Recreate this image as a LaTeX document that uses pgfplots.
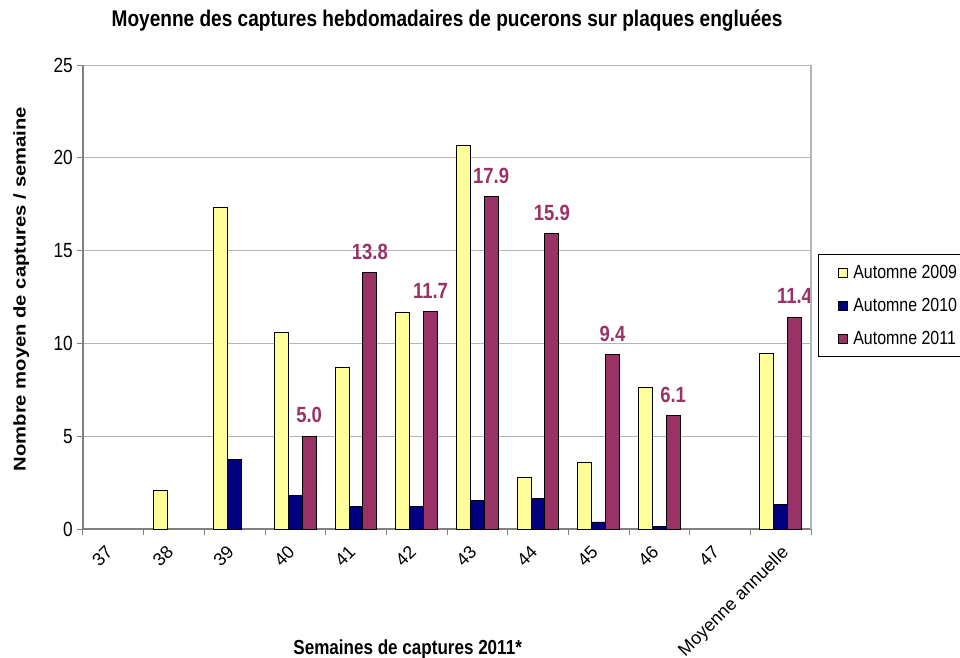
\documentclass[border=0pt]{standalone}
\usepackage{graphicx}
\usepackage{pgfplots}
\pgfplotsset{compat=1.18}
\usepackage{fontspec}
\setmainfont[FakeStretch=0.84]{Liberation Sans}
\newfontfamily\vfont[FakeStretch=1.19]{Liberation Sans}
\newfontfamily\lfont{Liberation Sans}
\definecolor{cA}{HTML}{FFFF99}
\definecolor{cB}{HTML}{000080}
\definecolor{cC}{HTML}{993366}
\definecolor{axg}{HTML}{808080}
\definecolor{grg}{HTML}{B4B4B4}
\newcommand\xl[1]{\rotatebox{45}{#1}}
\begin{document}
\begin{tikzpicture}
\useasboundingbox (-83pt,-128pt) rectangle (877pt,529pt);
\begin{axis}[
  scale only axis,
  width=728pt, height=464pt,
  xmin=-0.5, xmax=11.5,
  ymin=0, ymax=25,
  ytick={0,5,...,25},
  xtick={-0.5,0.5,...,11.5},
  xticklabels={\xl{37},\xl{38},\xl{39},\xl{40},\xl{41},\xl{42},\xl{43},\xl{44},\xl{45},\xl{46},\xl{47},\xl{Moyenne annuelle}\hspace*{-11pt},{}},
  /pgf/number format/assume math mode=true,
  tick align=outside,
  major tick length=6pt,
  tick style={draw=axg, line width=1pt},
  axis x line*=bottom,
  axis y line*=left,
  axis line style={draw=axg, line width=1.2pt, -},
  ymajorgrids,
  grid style={draw=grg, line width=1pt},
  yticklabel style={font=\fontsize{20.5}{24}\selectfont, inner sep=0pt, xshift=-4pt},
  xticklabel style={font=\lfont\fontsize{18}{21}\selectfont, xshift=31pt, yshift=-9pt, anchor=north east, inner sep=0pt},
  ybar, bar width=0.228,
  title={Moyenne des captures hebdomadaires de pucerons sur plaques engluées},
  title style={font=\fontsize{22.7}{27}\selectfont\bfseries, at={(axis description cs:0.5,1.069)}, anchor=base, inner sep=0pt},
  xlabel={Semaines de captures 2011*},
  xlabel style={font=\fontsize{20.3}{24}\selectfont\bfseries, at={(axis description cs:0.446,-0.2586)}, anchor=center, inner sep=0pt},
  ylabel={Nombre moyen de captures / semaine},
  ylabel style={font=\vfont\fontsize{17}{20}\selectfont\bfseries, at={(axis description cs:-0.085,0.517)}, anchor=center, inner sep=0pt, rotate=0},
  legend style={at={(axis description cs:1.0096,0.5927)}, anchor=north west, draw=black, line width=1pt, fill=white,
    inner xsep=20pt, inner ysep=9pt, row sep=14pt, column sep=3pt, font=\fontsize{19}{22}\selectfont, cells={anchor=west}},
  legend image code/.code={\draw[#1,draw=black,line width=0.8pt] (0pt,-4.5pt) rectangle (9pt,4.5pt);},
  after end axis/.code={\draw[draw=grg, line width=1.2pt] (rel axis cs:1,0) -- (rel axis cs:1,1);},
]
\addplot[fill=cA, draw=black, line width=0.9pt, bar shift=-0.228] coordinates {
(1,2.06) (2,17.35) (3,10.6) (4,8.73) (5,11.69) (6,20.69) (7,2.77) (8,3.59) (9,7.65) (11,9.45)};
\addplot[fill=cB, draw=black, line width=0.9pt, bar shift=0] coordinates {
(2,3.75) (3,1.8) (4,1.19) (5,1.19) (6,1.55) (7,1.67) (8,0.38) (9,0.16) (11,1.33)};
\addplot[fill=cC, draw=black, line width=0.9pt, bar shift=0.228,
  nodes near coords,
  nodes near coords style={font=\fontsize{22}{25}\selectfont\bfseries, text=cC, anchor=base, yshift=13.5pt, inner sep=0pt,
    /pgf/number format/.cd, fixed, fixed zerofill, precision=1, assume math mode=true}] coordinates {
(3,5.0) (4,13.8) (5,11.7) (6,17.9) (7,15.9) (8,9.4) (9,6.1) (11,11.4)};
\legend{Automne 2009, Automne 2010, Automne 2011}
\end{axis}
\end{tikzpicture}
\end{document}
